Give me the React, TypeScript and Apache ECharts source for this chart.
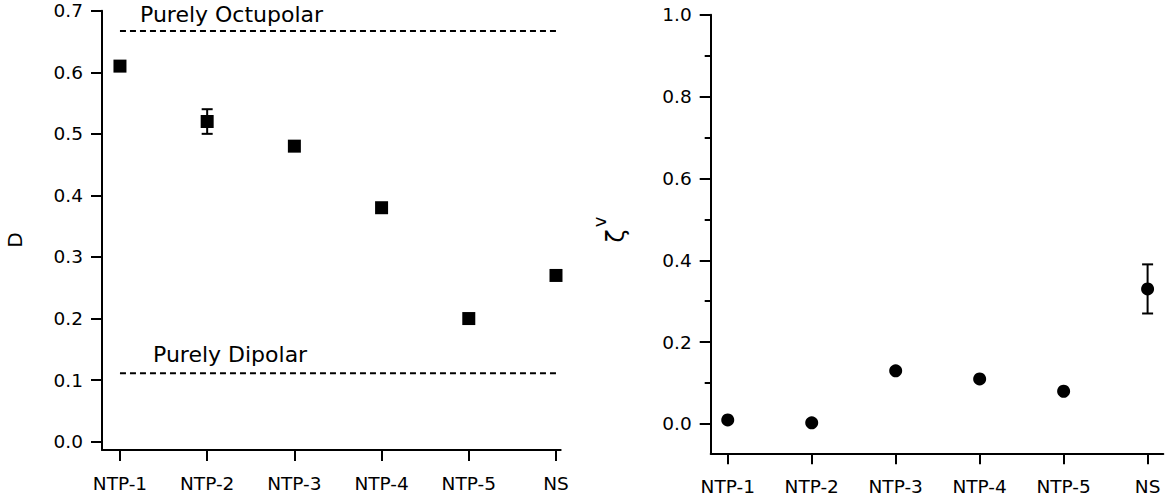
import React, { useEffect, useRef } from 'react';
import * as echarts from 'echarts';

const categories = ['NTP-1', 'NTP-2', 'NTP-3', 'NTP-4', 'NTP-5', 'NS'];
const dValues = [0.61, 0.52, 0.48, 0.38, 0.2, 0.27];
const dErrors = [0, 0.02, 0, 0, 0, 0];
const zetaValues = [0.01, 0.003, 0.13, 0.11, 0.08, 0.33];
const zetaErrors = [0, 0, 0, 0, 0, 0.06];
const dTicks = [0, 0.1, 0.2, 0.3, 0.4, 0.5, 0.6, 0.7];
const zetaMajorTicks = [0, 0.2, 0.4, 0.6, 0.8, 1.0];
const zetaMinorTicks = [0.1, 0.3, 0.5, 0.7, 0.9];
const categoryTicks = [0, 1, 2, 3, 4, 5];
const octupolarLimit = 0.667;
const dipolarLimit = 0.111;
const octupolarLabel = 'Purely Octupolar';
const dipolarLabel = 'Purely Dipolar';

const FONT = 'DejaVu Sans';
const BLACK = '#000';
const TICK_FONT = 18.5;

function errorBarItem(params: any, api: any) {
  const x = api.value(0);
  const lo = api.value(1);
  const hi = api.value(2);
  const pLo = api.coord([x, lo]);
  const pHi = api.coord([x, hi]);
  const hw = 5.5;
  const style = { stroke: BLACK, lineWidth: 2 };
  return {
    type: 'group',
    children: [
      { type: 'line', shape: { x1: pLo[0], y1: pLo[1], x2: pHi[0], y2: pHi[1] }, style },
      { type: 'line', shape: { x1: pLo[0] - hw, y1: pLo[1], x2: pLo[0] + hw, y2: pLo[1] }, style },
      { type: 'line', shape: { x1: pHi[0] - hw, y1: pHi[1], x2: pHi[0] + hw, y2: pHi[1] }, style },
    ],
  };
}

export default function App() {
  const ref = useRef<HTMLDivElement>(null);
  useEffect(() => {
    if (!ref.current) return;
    const chart = echarts.init(ref.current, null, { renderer: 'svg' });

    const axisLine = { show: true, onZero: false, lineStyle: { color: BLACK, width: 2 } };
    const tickStyle = { color: BLACK, width: 2 };
    const catLabel = {
      customValues: categoryTicks,
      formatter: (v: number) => categories[Math.round(v)] ?? '',
      color: BLACK,
      fontFamily: FONT,
      fontSize: TICK_FONT,
      margin: 24,
    };
    const valLabel = (ticks: number[]) => ({
      customValues: ticks,
      formatter: (v: number) => v.toFixed(1),
      color: BLACK,
      fontFamily: FONT,
      fontSize: TICK_FONT,
      margin: 19,
    });

    const dErrData = dValues
      .map((v, i) => [i, v - dErrors[i], v + dErrors[i]])
      .filter((_, i) => dErrors[i] > 0);
    const zErrData = zetaValues
      .map((v, i) => [i, v - zetaErrors[i], v + zetaErrors[i]])
      .filter((_, i) => zetaErrors[i] > 0);

    const option: any = {
      animation: false,
      backgroundColor: '#fff',
      grid: [
        { left: 102, top: 10.7, width: 458.7, height: 439.3, containLabel: false, outerBoundsMode: 'none' },
        { left: 710.7, top: 14.7, width: 452.6, height: 438.6, containLabel: false, outerBoundsMode: 'none' },
      ],
      xAxis: [
        {
          type: 'value', gridIndex: 0, min: -0.206, max: 5.054,
          axisLine, splitLine: { show: false },
          axisTick: { show: true, customValues: categoryTicks, length: 11, lineStyle: tickStyle },
          axisLabel: catLabel,
        },
        {
          type: 'value', gridIndex: 1, min: -0.203, max: 5.187,
          axisLine, splitLine: { show: false },
          axisTick: { show: true, customValues: categoryTicks, length: 11, lineStyle: tickStyle },
          axisLabel: catLabel,
        },
      ],
      yAxis: [
        {
          type: 'value', gridIndex: 0, min: -0.0135, max: 0.7,
          axisLine, splitLine: { show: false },
          axisTick: { show: true, customValues: dTicks, length: 11, lineStyle: tickStyle },
          axisLabel: valLabel(dTicks),
        },
        {
          type: 'value', gridIndex: 1, min: -0.0716, max: 1.0,
          axisLine, splitLine: { show: false },
          axisTick: { show: true, customValues: zetaMajorTicks, length: 11, lineStyle: tickStyle },
          axisLabel: valLabel(zetaMajorTicks),
        },
        {
          type: 'value', gridIndex: 1, min: -0.0716, max: 1.0, position: 'left', offset: 0,
          axisLine: { show: false, onZero: false }, splitLine: { show: false },
          axisTick: { show: true, customValues: zetaMinorTicks, length: 6, lineStyle: tickStyle },
          axisLabel: { show: false },
        },
      ],
      series: [
        {
          type: 'line', xAxisIndex: 0, yAxisIndex: 0, symbol: 'none', silent: true,
          data: [[0, octupolarLimit], [5, octupolarLimit]],
          lineStyle: { color: BLACK, width: 2, type: [6, 4] },
        },
        {
          type: 'line', xAxisIndex: 0, yAxisIndex: 0, symbol: 'none', silent: true,
          data: [[0, dipolarLimit], [5, dipolarLimit]],
          lineStyle: { color: BLACK, width: 2, type: [6, 4] },
        },
        {
          type: 'custom', xAxisIndex: 0, yAxisIndex: 0, renderItem: errorBarItem, data: dErrData,
        },
        {
          type: 'scatter', xAxisIndex: 0, yAxisIndex: 0, symbol: 'rect', symbolSize: 13,
          itemStyle: { color: BLACK, opacity: 1 },
          data: dValues.map((v, i) => [i, v]),
        },
        {
          type: 'custom', xAxisIndex: 1, yAxisIndex: 1, renderItem: errorBarItem, data: zErrData,
        },
        {
          type: 'scatter', xAxisIndex: 1, yAxisIndex: 1, symbol: 'circle', symbolSize: 13,
          itemStyle: { color: BLACK, opacity: 1 },
          data: zetaValues.map((v, i) => [i, v]),
        },
      ],
      graphic: [
        {
          type: 'text', x: 140, y: 14,
          style: { text: octupolarLabel, fill: BLACK, font: `22px "${FONT}"`, align: 'left', verticalAlign: 'middle' },
        },
        {
          type: 'text', x: 153, y: 354,
          style: { text: dipolarLabel, fill: BLACK, font: `22px "${FONT}"`, align: 'left', verticalAlign: 'middle' },
        },
        {
          type: 'text', x: 15, y: 240, rotation: Math.PI / 2,
          style: { text: 'D', fill: BLACK, font: `20px "${FONT}"`, align: 'center', verticalAlign: 'middle' },
        },
        {
          type: 'text', x: 616, y: 236, rotation: Math.PI / 2,
          style: { text: 'ζ', fill: BLACK, font: `24px "${FONT}"`, align: 'center', verticalAlign: 'middle' },
        },
        {
          type: 'text', x: 599, y: 222, rotation: Math.PI / 2,
          style: { text: 'v', fill: BLACK, font: `18px "${FONT}"`, align: 'center', verticalAlign: 'middle' },
        },
      ],
    };
    chart.setOption(option);
    return () => chart.dispose();
  }, []);
  return (
    <div
      ref={ref}
      style={{ position: 'absolute', left: 0, top: 0, width: 1167, height: 499, background: '#fff' }}
    />
  );
}
